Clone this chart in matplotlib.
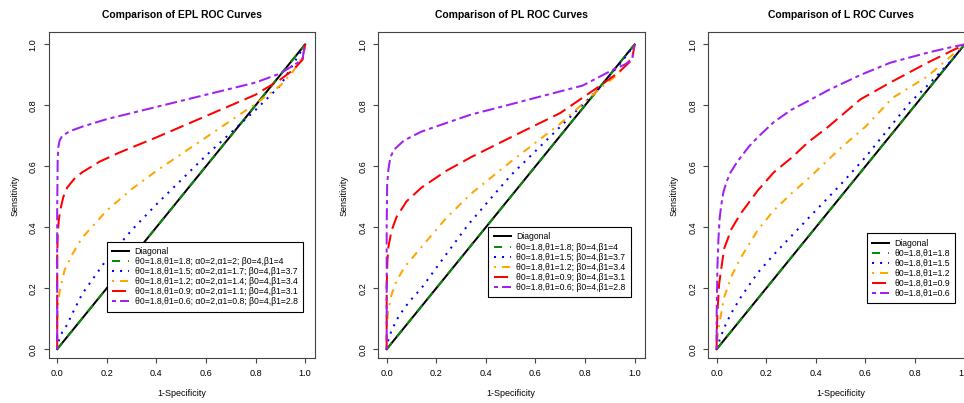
import matplotlib
matplotlib.use("Agg")
import matplotlib.pyplot as plt

plt.rcParams['font.family'] = ['Liberation Sans', 'DejaVu Sans']

# diagonal reference line (also the theta0 == theta1 curve)
diag = [0.0, 1.0]

# ---- EPL panel ----
epl_blue_x = [0, 0.005, 0.02, 0.04, 0.06, 0.1, 0.2, 0.3, 0.4, 0.5, 0.6, 0.7, 0.8, 0.9, 1.0]
epl_blue_y = [0, 0.025, 0.055, 0.08, 0.115, 0.18, 0.295, 0.39, 0.475, 0.555, 0.635, 0.71, 0.785, 0.865, 1.0]
epl_orange_x = [0, 0.0, 0.003, 0.01, 0.03, 0.06, 0.1, 0.2, 0.3, 0.4, 0.5, 0.6, 0.7, 0.8, 0.9, 0.95, 0.99, 1.0]
epl_orange_y = [0, 0.08, 0.14, 0.19, 0.26, 0.31, 0.365, 0.455, 0.525, 0.585, 0.64, 0.695, 0.75, 0.805, 0.865, 0.91, 0.96, 1.0]
epl_red_x = [0, 0.0, 0.002, 0.006, 0.012, 0.025, 0.04, 0.07, 0.1, 0.17, 0.25, 0.4, 0.5, 0.6, 0.7, 0.8, 0.9, 0.95, 0.99, 1.0]
epl_red_y = [0, 0.3, 0.37, 0.42, 0.455, 0.5, 0.53, 0.56, 0.58, 0.615, 0.645, 0.695, 0.73, 0.765, 0.80, 0.835, 0.885, 0.915, 0.95, 1.0]
epl_purple_x = [0, 0.0, 0.002, 0.005, 0.01, 0.02, 0.05, 0.1, 0.2, 0.3, 0.4, 0.5, 0.6, 0.7, 0.8, 0.9, 0.94, 0.97, 0.99, 1.0]
epl_purple_y = [0, 0.45, 0.62, 0.665, 0.685, 0.70, 0.715, 0.73, 0.755, 0.775, 0.795, 0.815, 0.835, 0.855, 0.875, 0.905, 0.925, 0.94, 0.955, 1.0]

# ---- PL panel ----
pl_blue_x = [0, 0.005, 0.02, 0.05, 0.09, 0.14, 0.23, 0.33, 0.5, 0.7, 0.85, 0.95, 1.0]
pl_blue_y = [0, 0.025, 0.063, 0.11, 0.155, 0.20, 0.30, 0.41, 0.57, 0.73, 0.85, 0.945, 1.0]
pl_orange_x = [0, 0.0, 0.005, 0.02, 0.04, 0.073, 0.14, 0.24, 0.34, 0.5, 0.7, 0.867, 0.93, 0.99, 1.0]
pl_orange_y = [0, 0.06, 0.12, 0.18, 0.225, 0.27, 0.335, 0.43, 0.51, 0.615, 0.74, 0.86, 0.90, 0.96, 1.0]
pl_red_x = [0, 0.0, 0.003, 0.007, 0.02, 0.04, 0.08, 0.14, 0.24, 0.34, 0.5, 0.7, 0.867, 0.935, 0.99, 1.0]
pl_red_y = [0, 0.2, 0.29, 0.336, 0.39, 0.434, 0.485, 0.53, 0.585, 0.63, 0.695, 0.775, 0.868, 0.908, 0.95, 1.0]
pl_purple_x = [0, 0.0, 0.002, 0.007, 0.015, 0.03, 0.07, 0.14, 0.25, 0.34, 0.46, 0.6, 0.79, 0.915, 0.96, 0.99, 1.0]
pl_purple_y = [0, 0.40, 0.54, 0.59, 0.63, 0.655, 0.685, 0.714, 0.745, 0.77, 0.795, 0.825, 0.865, 0.918, 0.934, 0.95, 1.0]

# ---- L panel ----
l_blue_x = [0, 0.01, 0.03, 0.06, 0.097, 0.165, 0.23, 0.30, 0.37, 0.5, 0.6, 0.78, 0.85, 0.95, 1.0]
l_blue_y = [0, 0.026, 0.07, 0.12, 0.17, 0.25, 0.31, 0.37, 0.43, 0.54, 0.63, 0.81, 0.865, 0.95, 1.0]
l_orange_x = [0, 0.003, 0.01, 0.03, 0.06, 0.097, 0.165, 0.23, 0.30, 0.37, 0.5, 0.6, 0.71, 0.85, 0.95, 1.0]
l_orange_y = [0, 0.04, 0.08, 0.17, 0.24, 0.30, 0.39, 0.455, 0.51, 0.56, 0.66, 0.73, 0.825, 0.895, 0.965, 1.0]
l_red_x = [0, 0.0, 0.003, 0.01, 0.03, 0.06, 0.097, 0.165, 0.23, 0.30, 0.37, 0.45, 0.58, 0.7, 0.85, 0.95, 1.0]
l_red_y = [0, 0.04, 0.12, 0.215, 0.33, 0.395, 0.445, 0.52, 0.58, 0.627, 0.68, 0.73, 0.82, 0.875, 0.94, 0.98, 1.0]
l_purple_x = [0, 0.0, 0.003, 0.007, 0.012, 0.018, 0.027, 0.04, 0.056, 0.075, 0.097, 0.13, 0.165, 0.23, 0.30, 0.37, 0.45, 0.58, 0.7, 0.85, 0.95, 1.0]
l_purple_y = [0, 0.12, 0.27, 0.36, 0.43, 0.47, 0.515, 0.55, 0.58, 0.605, 0.63, 0.665, 0.695, 0.745, 0.785, 0.815, 0.85, 0.90, 0.94, 0.973, 0.992, 1.0]

titles = ["Comparison of EPL ROC Curves", "Comparison of PL ROC Curves", "Comparison of L ROC Curves"]

epl_labels = ["θ0=1.8,θ1=1.8; α0=2,α1=2; β0=4,β1=4",
              "θ0=1.8,θ1=1.5; α0=2,α1=1.7; β0=4,β1=3.7",
              "θ0=1.8,θ1=1.2; α0=2,α1=1.4; β0=4,β1=3.4",
              "θ0=1.8,θ1=0.9; α0=2,α1=1.1; β0=4,β1=3.1",
              "θ0=1.8,θ1=0.6; α0=2,α1=0.8; β0=4,β1=2.8"]
pl_labels = ["θ0=1.8,θ1=1.8; β0=4,β1=4",
             "θ0=1.8,θ1=1.5; β0=4,β1=3.7",
             "θ0=1.8,θ1=1.2; β0=4,β1=3.4",
             "θ0=1.8,θ1=0.9; β0=4,β1=3.1",
             "θ0=1.8,θ1=0.6; β0=4,β1=2.8"]
l_labels = ["θ0=1.8,θ1=1.8", "θ0=1.8,θ1=1.5", "θ0=1.8,θ1=1.2",
            "θ0=1.8,θ1=0.9", "θ0=1.8,θ1=0.6"]

ticks = [0.0, 0.2, 0.4, 0.6, 0.8, 1.0]
tick_labels = ["0.0", "0.2", "0.4", "0.6", "0.8", "1.0"]

# R-like colours and line types
green = "#0a8a0a"
purple = "#A020F0"
lw = 1.45

panels = [
    (titles[0], epl_labels, (epl_blue_x, epl_blue_y), (epl_orange_x, epl_orange_y),
     (epl_red_x, epl_red_y), (epl_purple_x, epl_purple_y), (0.2, 0.352)),
    (titles[1], pl_labels, (pl_blue_x, pl_blue_y), (pl_orange_x, pl_orange_y),
     (pl_red_x, pl_red_y), (pl_purple_x, pl_purple_y), (0.41, 0.40)),
    (titles[2], l_labels, (l_blue_x, l_blue_y), (l_orange_x, l_orange_y),
     (l_red_x, l_red_y), (l_purple_x, l_purple_y), (0.605, 0.38)),
]

fig = plt.figure(figsize=(9.64, 4.03), dpi=100)
lefts = [48.5, 378, 708]

for left, (title, labels, blue, orange, red, purp, anchor) in zip(lefts, panels):
    ax = fig.add_axes([left / 964, 44.7 / 403, 266.5 / 964, 326 / 403])
    ax.plot(diag, diag, color="black", lw=lw, label="Diagonal")
    ax.plot(diag, diag, color=green, lw=lw, dashes=(4, 4), label=labels[0])
    ax.plot(blue[0], blue[1], color="blue", lw=lw, dashes=(1, 3), label=labels[1])
    ax.plot(orange[0], orange[1], color="orange", lw=lw, dashes=(1, 3, 4, 3), label=labels[2])
    ax.plot(red[0], red[1], color="red", lw=lw, dashes=(7, 3), label=labels[3])
    ax.plot(purp[0], purp[1], color=purple, lw=lw, dashes=(2, 2, 6, 2), label=labels[4])

    ax.set_xlim(-0.035, 1.04)
    ax.set_ylim(-0.03, 1.04)
    ax.set_xticks(ticks)
    ax.set_xticklabels(tick_labels)
    ax.set_yticks(ticks)
    ax.set_yticklabels(tick_labels, rotation=90, va="center")
    ax.tick_params(length=3.6, width=0.8, color="#444444", labelsize=6.6, pad=4.2)
    for sp in ax.spines.values():
        sp.set_color("#444444")
        sp.set_linewidth(0.8)

    ax.set_title(title, fontsize=7.5, fontweight="bold", pad=10.5)
    ax.set_xlabel("1-Specificity", fontsize=6.5)
    ax.xaxis.set_label_coords(0.5, -0.093)
    ax.set_ylabel("Sensitivity", fontsize=6.5)
    ax.yaxis.set_label_coords(-0.109, 0.5)

    leg = ax.legend(loc="upper left", bbox_to_anchor=anchor, bbox_transform=ax.transData,
                    fontsize=6.25, frameon=True, fancybox=False, edgecolor="black",
                    framealpha=1, borderpad=0.6, labelspacing=0.12, handlelength=2.0,
                    handletextpad=0.6, borderaxespad=0)
    leg.get_frame().set_linewidth(0.8)

fig.savefig("out.png", dpi=100)
